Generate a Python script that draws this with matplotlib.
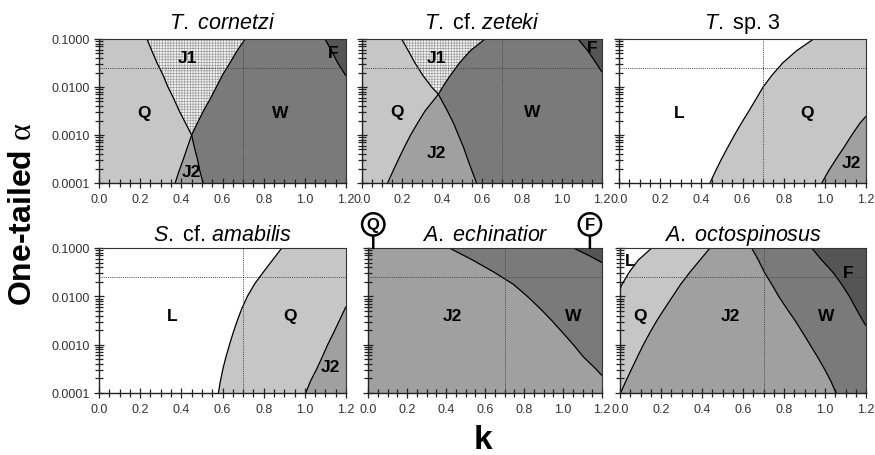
import numpy as np
import matplotlib
matplotlib.use('Agg')
import matplotlib.pyplot as plt
from matplotlib.ticker import MultipleLocator, FixedLocator, LogLocator, FuncFormatter, NullFormatter

plt.rcParams['font.family'] = ['Liberation Sans', 'DejaVu Sans']
plt.rcParams['mathtext.fontset'] = 'custom'
plt.rcParams['mathtext.it'] = 'Liberation Sans:italic'
plt.rcParams['mathtext.rm'] = 'Liberation Sans'
plt.rcParams['mathtext.bf'] = 'Liberation Sans:bold'
plt.rcParams['mathtext.sf'] = 'Liberation Serif'
plt.rcParams['hatch.linewidth'] = 0.45
plt.rcParams['hatch.color'] = '#9a9a9a'

# ---------------- data (k values of region boundaries at log10(alpha) levels) ----------------
TITLES = [r'$\mathit{T.\ cornetzi}$', r'$\mathit{T.}$ cf. $\mathit{zeteki}$', r'$\mathit{T.}$ sp. 3',
          r'$\mathit{S.}$ cf. $\mathit{amabilis}$', r'$\mathit{A.\ echinatior}$', r'$\mathit{A.\ octospinosus}$']
K_MIN, K_MAX = 0.0, 1.2
ALPHA_MIN, ALPHA_MAX = 1e-4, 1e-1
ALPHA_REF = 0.025
K_REF = 0.7
Y_TICKS = [0.0001, 0.001, 0.01, 0.1]
X_TICKS = [0.0, 0.2, 0.4, 0.6, 0.8, 1.0, 1.2]

LEVELS = [-4.0, -3.75, -3.5, -3.25, -3.0, -2.75, -2.5, -2.25, -2.0, -1.75, -1.5, -1.25, -1.0]

# T. cornetzi
p1_levels = LEVELS
p1_qj1 = [0.506, 0.490, 0.478, 0.463, 0.450, 0.420, 0.390, 0.364, 0.335, 0.311, 0.282, 0.257, 0.233]
p1_j1w = [0.370, 0.389, 0.410, 0.430, 0.450, 0.478, 0.507, 0.540, 0.570, 0.600, 0.636, 0.670, 0.710]
p1_f_levels = [-1.77, -1.5, -1.25, -1.0]
p1_f = [1.20, 1.16, 1.13, 1.098]

# T. cf. zeteki
p2_levels = [-4.0, -3.75, -3.5, -3.25, -3.0, -2.75, -2.5, -2.15, -2.0, -1.75, -1.5, -1.25, -1.0]
p2_qj1 = [0.573, 0.550, 0.528, 0.507, 0.482, 0.457, 0.427, 0.382, 0.348, 0.303, 0.265, 0.232, 0.198]
p2_j1w = [0.128, 0.155, 0.183, 0.212, 0.243, 0.278, 0.315, 0.382, 0.403, 0.443, 0.487, 0.540, 0.615]
p2_f_levels = [-1.69, -1.5, -1.25, -1.0]
p2_f = [1.20, 1.17, 1.13, 1.08]

# T. sp. 3
p3_levels = LEVELS
p3_lq = [0.442, 0.469, 0.498, 0.529, 0.561, 0.595, 0.631, 0.666, 0.700, 0.744, 0.795, 0.861, 0.945]
p3_j2_levels = [-4.0, -3.75, -3.5, -3.25, -3.0, -2.75, -2.61]
p3_qj2 = [0.985, 1.018, 1.055, 1.094, 1.131, 1.171, 1.20]

# S. cf. amabilis
p4_levels = LEVELS
p4_lq = [0.580, 0.590, 0.602, 0.617, 0.634, 0.652, 0.672, 0.694, 0.721, 0.755, 0.798, 0.843, 0.888]
p4_j2_levels = [-4.0, -3.75, -3.5, -3.25, -3.0, -2.75, -2.5, -2.21]
p4_qj2 = [1.004, 1.028, 1.058, 1.085, 1.111, 1.140, 1.168, 1.20]

# A. echinatior
p5_w_levels = [-3.64, -3.5, -3.25, -3.0, -2.75, -2.5, -2.25, -2.0, -1.75, -1.5, -1.25, -1.0]
p5_j2w = [1.20, 1.168, 1.104, 1.053, 0.998, 0.942, 0.882, 0.817, 0.745, 0.646, 0.537, 0.417]
p5_f_levels = [-1.30, -1.15, -1.0]
p5_f = [1.20, 1.13, 1.053]
p5_q_k = 0.027     # tiny Q region (circled)
p5_f_k = 1.138     # tiny F region (circled)

# A. octospinosus
p6_l_levels = [-1.85, -1.75, -1.5, -1.25, -1.0]
p6_lq = [0.0, 0.010, 0.045, 0.089, 0.155]
p6_levels = LEVELS
p6_qj2 = [0.003, 0.029, 0.057, 0.085, 0.114, 0.146, 0.180, 0.218, 0.257, 0.296, 0.341, 0.390, 0.439]
p6_j2w = [1.054, 1.028, 0.997, 0.963, 0.927, 0.891, 0.854, 0.813, 0.774, 0.740, 0.704, 0.675, 0.642]
p6_f_levels = [-2.61, -2.5, -2.25, -2.0, -1.75, -1.5, -1.25, -1.0]
p6_wf = [1.20, 1.184, 1.151, 1.119, 1.081, 1.038, 0.984, 0.935]

# ---------------- style ----------------
C_L = '#ffffff'
C_Q = '#c6c6c6'
C_J1 = '#f2f2f2'
C_J2 = '#a0a0a0'
C_W = '#7a7a7a'
C_F = '#555555'
HATCH_C = '#9a9a9a'

W, H = 875, 456
fig = plt.figure(figsize=(W / 100, H / 100), dpi=100)

# axes pixel boxes (left, right, top, bottom)
boxes = [(99, 346, 40, 184), (362, 602, 40, 184), (619, 866, 40, 184),
         (99, 346, 249, 394), (368, 602, 249, 394), (620, 866, 249, 394)]
axes = []
for (l, r, t, b) in boxes:
    ax = fig.add_axes([l / W, 1 - b / H, (r - l) / W, (b - t) / H])
    axes.append(ax)


def A(levels):
    return 10.0 ** np.asarray(levels)


def fill(ax, levels, left, right, color, hatch=None, where=None):
    ax.fill_betweenx(A(levels), left, right, where=where, interpolate=True,
                     facecolor=color, edgecolor=HATCH_C if hatch else 'none',
                     hatch=hatch, linewidth=0, zorder=1)


def line(ax, levels, k):
    ax.plot(k, A(levels), color='black', lw=0.9, zorder=2, solid_capstyle='butt')


def label(ax, k, alpha, s):
    ax.text(k, alpha, s, ha='center', va='center', fontsize=12.5, fontweight='bold', zorder=4)


# Panel 1
ax = axes[0]
ax.set_facecolor(C_Q)
a1, b1 = np.array(p1_qj1), np.array(p1_j1w)
fill(ax, p1_levels, a1, b1, C_J1, hatch='++++++', where=b1 >= a1)
fill(ax, p1_levels, b1, a1, C_J2, where=a1 >= b1)
fill(ax, p1_levels, np.maximum(a1, b1), K_MAX, C_W)
fill(ax, p1_f_levels, p1_f, K_MAX, C_F)
line(ax, p1_levels, a1); line(ax, p1_levels, b1); line(ax, p1_f_levels, p1_f)
label(ax, 0.43, 0.042, 'J1'); label(ax, 0.22, 0.003, 'Q'); label(ax, 0.88, 0.003, 'W')
label(ax, 0.45, 0.00017, 'J2'); label(ax, 1.14, 0.053, 'F')

# Panel 2
ax = axes[1]
ax.set_facecolor(C_Q)
a2, b2 = np.array(p2_qj1), np.array(p2_j1w)
fill(ax, p2_levels, a2, b2, C_J1, hatch='++++++', where=b2 >= a2)
fill(ax, p2_levels, b2, a2, C_J2, where=a2 >= b2)
fill(ax, p2_levels, np.maximum(a2, b2), K_MAX, C_W)
fill(ax, p2_f_levels, p2_f, K_MAX, C_F)
line(ax, p2_levels, a2); line(ax, p2_levels, b2); line(ax, p2_f_levels, p2_f)
label(ax, 0.373, 0.042, 'J1'); label(ax, 0.177, 0.0031, 'Q'); label(ax, 0.853, 0.0031, 'W')
label(ax, 0.373, 0.00043, 'J2'); label(ax, 1.153, 0.068, 'F')

# Panel 3
ax = axes[2]
ax.set_facecolor(C_L)
fill(ax, p3_levels, p3_lq, K_MAX, C_Q)
fill(ax, p3_j2_levels, p3_qj2, K_MAX, C_J2)
line(ax, p3_levels, p3_lq); line(ax, p3_j2_levels, p3_qj2)
label(ax, 0.292, 0.003, 'L'); label(ax, 0.913, 0.003, 'Q'); label(ax, 1.131, 0.00027, 'J2')

# Panel 4
ax = axes[3]
ax.set_facecolor(C_L)
fill(ax, p4_levels, p4_lq, K_MAX, C_Q)
fill(ax, p4_j2_levels, p4_qj2, K_MAX, C_J2)
line(ax, p4_levels, p4_lq); line(ax, p4_j2_levels, p4_qj2)
label(ax, 0.356, 0.004, 'L'); label(ax, 0.928, 0.004, 'Q'); label(ax, 1.122, 0.00036, 'J2')

# Panel 5
ax = axes[4]
ax.set_facecolor(C_J2)
fill(ax, p5_w_levels, p5_j2w, K_MAX, C_W)
fill(ax, p5_f_levels, p5_f, K_MAX, C_F)
line(ax, p5_w_levels, p5_j2w); line(ax, p5_f_levels, p5_f)
label(ax, 0.434, 0.004, 'J2'); label(ax, 1.05, 0.004, 'W')
for kk, s in [(p5_q_k, 'Q'), (p5_f_k, 'F')]:
    ax.annotate(s, xy=(kk, ALPHA_MAX), xycoords='data', xytext=(0, 17), textcoords='offset points',
                ha='center', va='center', fontsize=12, fontweight='bold', annotation_clip=False,
                bbox=dict(boxstyle='circle,pad=0.22', fc='white', ec='black', lw=1.8),
                arrowprops=dict(arrowstyle='-', lw=1.8, color='black', shrinkA=0, shrinkB=0), zorder=5)

# Panel 6
ax = axes[5]
ax.set_facecolor(C_Q)
fill(ax, p6_l_levels, K_MIN, p6_lq, C_L)
fill(ax, p6_levels, p6_qj2, K_MAX, C_J2)
fill(ax, p6_levels, p6_j2w, K_MAX, C_W)
fill(ax, p6_f_levels, p6_wf, K_MAX, C_F)
line(ax, p6_l_levels, p6_lq); line(ax, p6_levels, p6_qj2)
line(ax, p6_levels, p6_j2w); line(ax, p6_f_levels, p6_wf)
label(ax, 0.052, 0.055, 'L'); label(ax, 0.098, 0.004, 'Q'); label(ax, 0.537, 0.004, 'J2')
label(ax, 1.008, 0.004, 'W'); label(ax, 1.114, 0.0316, 'F')

# common axes styling
for i, ax in enumerate(axes):
    ax.set_yscale('log')
    ax.set_xlim(K_MIN, K_MAX)
    ax.set_ylim(ALPHA_MIN, ALPHA_MAX)
    ax.axhline(ALPHA_REF, color='#444444', lw=0.7, ls=(0, (1, 1.2)), zorder=3)
    ax.axvline(K_REF, color='#444444', lw=0.7, ls=(0, (1, 1.2)), zorder=3)
    ax.xaxis.set_major_locator(FixedLocator(X_TICKS))
    ax.xaxis.set_minor_locator(MultipleLocator(0.05))
    ax.xaxis.set_major_formatter(FuncFormatter(lambda v, p: '%.1f' % v))
    ax.yaxis.set_major_locator(FixedLocator(Y_TICKS))
    ax.yaxis.set_minor_locator(LogLocator(base=10, subs=np.arange(2, 10)))
    ax.yaxis.set_minor_formatter(NullFormatter())
    if i % 3 == 0:
        ax.yaxis.set_major_formatter(FuncFormatter(lambda v, p: '%.4f' % v))
    else:
        ax.yaxis.set_major_formatter(NullFormatter())
    ax.tick_params(axis='both', which='both', direction='inout', color='#222222', width=0.9)
    ax.tick_params(axis='both', which='major', length=7, labelsize=9, labelcolor='#333333', pad=3)
    ax.tick_params(axis='both', which='minor', length=6)
    ax.tick_params(axis='x', which='major', pad=4)
    for side in ['top', 'right']:
        ax.spines[side].set_linewidth(0.8)
        ax.spines[side].set_color('#333333')
    for side in ['left', 'bottom']:
        ax.spines[side].set_linewidth(1.0)
        ax.spines[side].set_color('#222222')
    ax.set_title(TITLES[i], fontsize=15.5, pad=8 if i < 3 else 5.5)

fig.text(0.026, 0.53, r'One-tailed $\mathsf{\alpha}$', rotation=90, ha='center', va='center',
         fontsize=23, fontweight='bold')
fig.text(0.552, 0.035, 'k', ha='center', va='center', fontsize=24, fontweight='bold')

fig.savefig('out.png', dpi=100)
